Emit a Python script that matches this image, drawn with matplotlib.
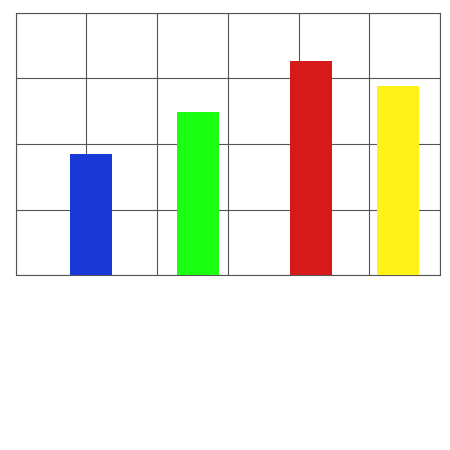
import matplotlib
matplotlib.use("Agg")
import matplotlib.pyplot as plt

categories = ["A", "B", "C", "D"]
x_positions = [1.07, 2.58, 4.18, 5.40]
values = [1.85, 2.49, 3.26, 2.89]
colors = ["#1838d8", "#1aff12", "#d61a1a", "#fff21a"]

fig = plt.figure(figsize=(4.5, 4.5), dpi=100)
ax = fig.add_axes([0.035, 0.388, 0.943, 0.584])
ax.bar(x_positions, values, width=0.594, color=colors, zorder=3)
ax.set_xlim(0, 6)
ax.set_ylim(0, 4)
ax.set_xticks(range(0, 7))
ax.set_yticks(range(0, 5))
ax.grid(True, color="#555555", linewidth=0.8, zorder=0)
ax.tick_params(length=0, labelbottom=False, labelleft=False)
for s in ax.spines.values():
    s.set_color("#555555")
    s.set_linewidth(0.8)
fig.savefig("out.png", dpi=100)
